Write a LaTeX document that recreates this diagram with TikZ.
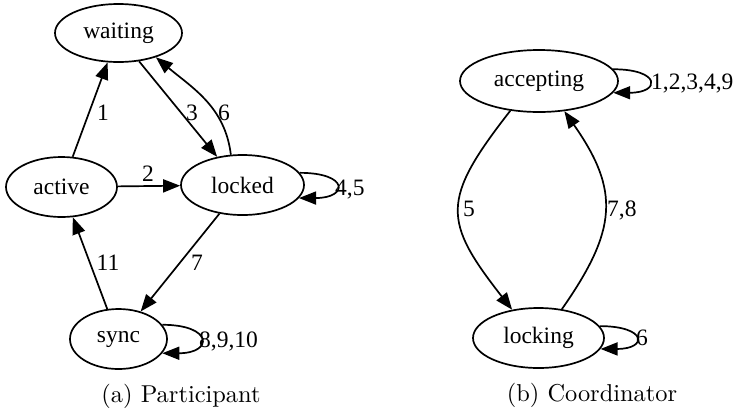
\documentclass[tikz,border=0pt]{standalone}
\usepackage{fontspec}
\newfontfamily\gvfont{Liberation Serif}
\newfontfamily\capfont{lmroman10-regular}[Extension=.otf]
\usetikzlibrary{arrows.meta,shapes.geometric}
\begin{document}
\begin{tikzpicture}[x=1pt,y=-1pt,
  st/.style={ellipse,draw,line width=1.7pt,inner sep=0pt,font=\gvfont\fontsize{23.5}{28}\selectfont},
  tr/.style={draw,line width=1.7pt,-{Triangle[length=17pt,width=13pt]}},
  lbl/.style={inner sep=0pt,text depth=0pt,font=\gvfont\fontsize{23.5}{28}\selectfont},
  captext/.style={inner sep=0pt,font=\capfont\fontsize{24.4}{29}\selectfont}]
\useasboundingbox (0,0) rectangle (735,413);
% Participant
\node[st,minimum width=127pt,minimum height=58pt] (waiting) at (118.5,33) {waiting};
\node[st,minimum width=111pt,minimum height=60pt] (active) at (61.5,187) {active};
\node[st,minimum width=123pt,minimum height=60pt] (locked) at (242.5,185) {locked};
\node[st,minimum width=97pt,minimum height=60pt] (sync) at (118.5,339) {sync};
\draw[tr] (active) -- (waiting);
\draw[tr] (active) -- (locked);
\draw[tr] (waiting.306) -- (locked.132.5);
\draw[tr] (locked.111) to[out=97,in=-40] (waiting.327);
\draw[tr] (locked.12) to[out=0,in=0,looseness=5] (locked.-13);
\draw[tr] (locked) -- (sync);
\draw[tr] (sync) -- (active);
\draw[tr] (sync.18) to[out=0,in=0,looseness=4.6] (sync.-18);
\node[lbl] (l1) at (103,113) {1};
\node[lbl] (l2) at (148,174) {2};
\node[lbl] (l3) at (192,113) {3};
\node[lbl] (l6) at (224,113) {6};
\node[lbl,anchor=west] (l45) at (335,188) {4,5};
\node[lbl] (l7) at (197,263) {7};
\node[lbl] (l11) at (108,263) {11};
\node[lbl,anchor=west] (l8910) at (199,340) {8,9,10};
\node[captext] (capa) at (181,396) {(a) Participant};
% Coordinator
\node[st,minimum width=158pt,minimum height=62pt] (accepting) at (539,81) {accepting};
\node[st,minimum width=131pt,minimum height=60pt] (locking) at (538.5,338) {locking};
\draw[tr] (accepting.226) to[out=232,in=128,looseness=1.45] (locking.133.5);
\draw[tr] (locking.51) to[out=55,in=-55,looseness=1.25] (accepting.-50);
\draw[tr] (accepting.9) to[out=0,in=0,looseness=5.2] (accepting.-9);
\draw[tr] (locking.11) to[out=0,in=0,looseness=5.3] (locking.-10);
\node[lbl,anchor=west] (l5) at (463,209) {5};
\node[lbl,anchor=west] (l78) at (607,209) {7,8};
\node[lbl,anchor=west] (lacc) at (651,82) {1,2,3,4,9};
\node[lbl,anchor=west] (l6b) at (636,338) {6};
\node[captext] (capb) at (592,395) {(b) Coordinator};
\end{tikzpicture}
\end{document}
